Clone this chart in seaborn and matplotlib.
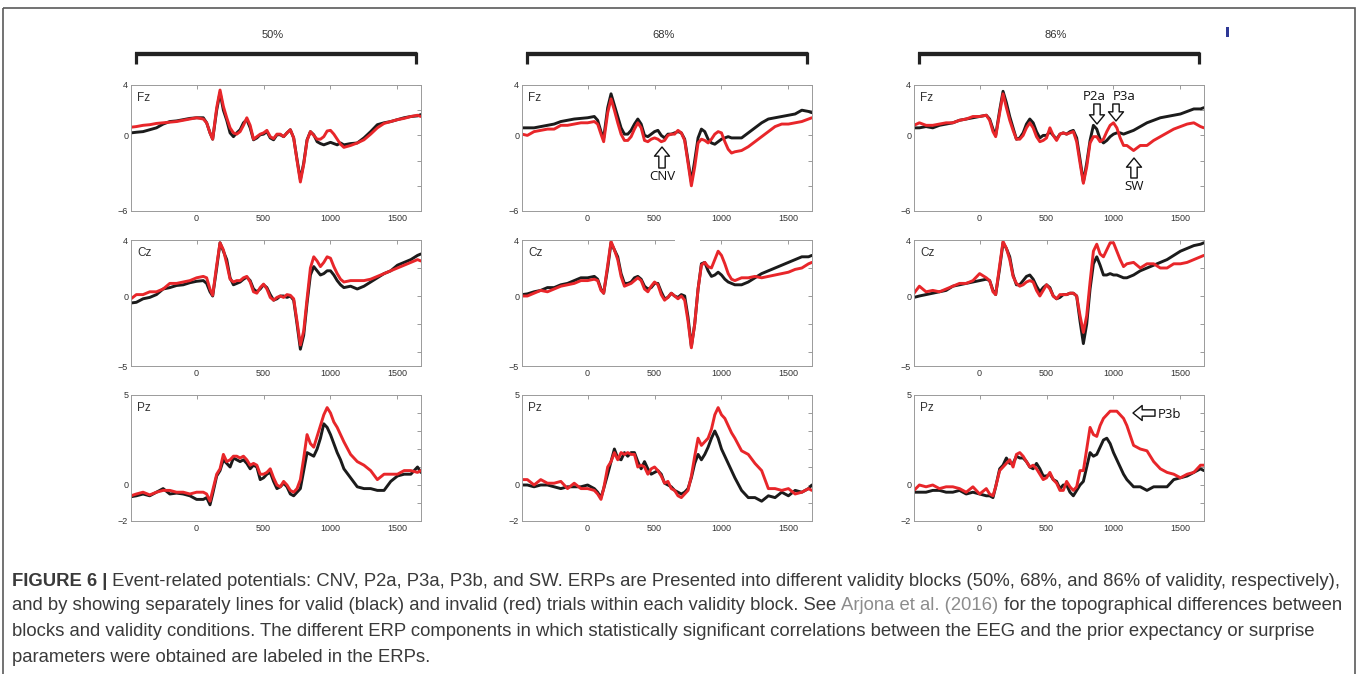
import numpy as np
import pandas as pd
import matplotlib
matplotlib.use("Agg")
import matplotlib.pyplot as plt
import seaborn as sns
from matplotlib.patches import FancyArrowPatch, Rectangle
from matplotlib.lines import Line2D
from matplotlib import font_manager as fm

# ---------------- data ----------------
T_MS = [-490, -450, -400, -350, -300, -250, -200, -150, -100, -50,
        0, 50, 75, 100, 120,
        150, 175, 200, 225, 250, 275, 300, 325, 350, 375,
        400, 425, 450, 475, 500, 525, 550, 575, 600, 625,
        650, 675, 700, 725, 750, 775, 800, 825, 850, 875,
        900, 925, 950, 975, 1000, 1025, 1050, 1075, 1100,
        1150, 1200, 1250, 1300, 1350, 1400, 1450, 1500, 1550, 1600, 1650, 1675]

BLOCKS = ["50%", "68%", "86%"]
CHANNELS = ["Fz", "Cz", "Pz"]

# ---- 50% block ----
FZ_50_VALID = [0.2, 0.25, 0.3, 0.45, 0.6, 0.9, 1.1, 1.15, 1.25, 1.35,
               1.4, 1.4, 1.0, 0.2, -0.3,
               2.0, 3.4, 2.0, 1.2, 0.2, -0.1, 0.2, 0.45, 1.0, 1.25,
               0.6, -0.35, -0.2, 0.05, 0.1, 0.3, -0.2, -0.35, 0.05, 0.05,
               -0.1, 0.2, 0.45, -0.2, -1.9, -3.5, -2.2, -0.35, 0.3, 0.05,
               -0.5, -0.65, -0.75, -0.65, -0.55, -0.65, -0.75, -0.6, -0.75,
               -0.65, -0.6, -0.2, 0.3, 0.85, 1.0, 1.1, 1.25, 1.4, 1.5, 1.55, 1.65]
FZ_50_INVALID = [0.65, 0.7, 0.8, 0.85, 0.95, 1.0, 1.05, 1.1, 1.2, 1.3,
                 1.4, 1.3, 1.0, 0.2, -0.3,
                 2.2, 3.6, 2.3, 1.4, 0.6, 0.2, 0.1, 0.3, 0.8, 1.4,
                 0.8, -0.3, -0.1, 0.1, 0.2, 0.4, -0.1, -0.25, 0.1, 0.1,
                 -0.1, 0.2, 0.45, -0.2, -2.0, -3.7, -2.3, -0.4, 0.3, 0.0,
                 -0.3, -0.3, -0.1, 0.35, 0.4, 0.1, -0.3, -0.7, -0.95,
                 -0.8, -0.6, -0.35, 0.1, 0.6, 0.95, 1.1, 1.25, 1.35, 1.5, 1.6, 1.5]
CZ_50_VALID = [-0.5, -0.45, -0.2, -0.1, 0.1, 0.5, 0.6, 0.75, 0.8, 0.95,
               1.05, 1.1, 0.9, 0.3, 0.0,
               2.0, 3.8, 3.2, 2.6, 1.3, 0.8, 0.9, 1.0, 1.2, 1.35,
               1.1, 0.5, 0.3, 0.5, 0.8, 0.6, 0.1, -0.3, -0.2, 0.0,
               0.0, -0.1, 0.0, -0.3, -2.0, -3.8, -2.8, -0.5, 1.5, 2.1,
               1.8, 1.5, 1.6, 1.8, 1.8, 1.5, 1.1, 0.8, 0.6,
               0.7, 0.5, 0.7, 1.0, 1.3, 1.6, 1.8, 2.2, 2.4, 2.6, 2.9, 3.0]
CZ_50_INVALID = [-0.2, 0.1, 0.1, 0.3, 0.3, 0.5, 0.9, 0.9, 1.0, 1.1,
                 1.3, 1.4, 1.3, 0.5, 0.05,
                 2.2, 3.8, 3.3, 2.3, 1.2, 1.0, 1.1, 1.1, 1.3, 1.4,
                 1.0, 0.3, 0.2, 0.6, 0.85, 0.5, -0.1, -0.3, -0.1, 0.0,
                 -0.1, 0.1, 0.05, -0.2, -1.8, -3.5, -2.5, -0.2, 2.0, 2.8,
                 2.5, 2.1, 2.4, 2.8, 2.7, 2.1, 1.6, 1.2, 1.0,
                 1.1, 1.1, 1.1, 1.2, 1.4, 1.6, 1.8, 2.0, 2.2, 2.4, 2.6, 2.5]
PZ_50_VALID = [-0.65, -0.6, -0.5, -0.6, -0.4, -0.2, -0.5, -0.45, -0.5, -0.6,
               -0.8, -0.8, -0.7, -1.1, -0.5,
               0.5, 0.8, 1.4, 1.2, 1.0, 1.5, 1.4, 1.3, 1.4, 1.2,
               0.9, 1.1, 1.0, 0.3, 0.4, 0.6, 0.7, 0.2, -0.2, -0.1,
               0.1, -0.1, -0.5, -0.6, -0.4, -0.2, 0.8, 1.8, 1.7, 1.6,
               2.0, 2.6, 3.4, 3.2, 2.8, 2.3, 1.8, 1.4, 0.9,
               0.4, -0.1, -0.2, -0.2, -0.3, -0.3, 0.2, 0.5, 0.6, 0.6, 1.0, 0.7]
PZ_50_INVALID = [-0.6, -0.5, -0.4, -0.55, -0.4, -0.3, -0.3, -0.4, -0.4, -0.5,
                 -0.4, -0.4, -0.5, -0.9, -0.3,
                 0.6, 0.9, 1.7, 1.3, 1.4, 1.6, 1.6, 1.5, 1.6, 1.4,
                 1.1, 1.2, 1.1, 0.6, 0.6, 0.7, 0.9, 0.4, 0.0, -0.1,
                 0.2, 0.0, -0.3, -0.4, -0.2, 0.3, 1.5, 2.8, 2.3, 2.1,
                 2.7, 3.3, 3.9, 4.3, 4.0, 3.5, 3.2, 2.8, 2.4,
                 1.7, 1.3, 1.1, 0.8, 0.3, 0.6, 0.6, 0.6, 0.8, 0.8, 0.7, 0.8]

# ---- 68% block ----
FZ_68_VALID = [0.6, 0.6, 0.6, 0.7, 0.8, 0.9, 1.1, 1.2, 1.3, 1.35,
               1.4, 1.5, 1.2, 0.3, -0.2,
               2.2, 3.3, 2.4, 1.5, 0.6, 0.1, 0.1, 0.4, 0.9, 1.3,
               0.9, 0.0, -0.1, 0.1, 0.3, 0.4, 0.0, -0.2, 0.1, 0.1,
               0.2, 0.3, 0.2, -0.3, -2.0, -3.7, -2.0, -0.2, 0.5, 0.3,
               -0.3, -0.6, -0.7, -0.5, -0.3, -0.2, -0.1, -0.2, -0.2,
               -0.2, 0.2, 0.6, 1.0, 1.3, 1.4, 1.5, 1.6, 1.7, 2.0, 1.9, 1.8]
FZ_68_INVALID = [0.1, 0.0, 0.3, 0.4, 0.5, 0.5, 0.8, 0.8, 0.9, 1.0,
                 1.0, 1.1, 0.9, 0.1, -0.5,
                 1.8, 2.9, 2.0, 1.0, 0.1, -0.4, -0.4, -0.1, 0.5, 1.0,
                 0.6, -0.4, -0.5, -0.3, -0.2, -0.3, -0.5, -0.4, 0.0, 0.1,
                 0.1, 0.4, 0.2, -0.4, -2.2, -4.0, -2.5, -0.6, -0.3, -0.4,
                 -0.6, -0.3, 0.1, 0.3, 0.2, -0.5, -1.1, -1.4, -1.3,
                 -1.2, -0.9, -0.5, -0.1, 0.3, 0.7, 0.9, 0.9, 1.0, 1.1, 1.3, 1.4]
CZ_68_VALID = [0.1, 0.15, 0.3, 0.4, 0.6, 0.6, 0.8, 0.9, 1.1, 1.3,
               1.3, 1.4, 1.2, 0.5, 0.2,
               2.0, 3.8, 3.3, 2.8, 1.6, 0.9, 0.9, 1.0, 1.3, 1.4,
               1.2, 0.7, 0.5, 0.6, 0.9, 0.9, 0.3, -0.2, -0.1, 0.2,
               0.0, -0.1, 0.1, 0.0, -1.5, -3.6, -2.0, 0.5, 2.3, 2.4,
               1.8, 1.4, 1.5, 1.7, 1.5, 1.2, 1.0, 0.9, 0.8,
               0.8, 1.0, 1.3, 1.6, 1.8, 2.0, 2.2, 2.4, 2.6, 2.8, 2.8, 2.9]
CZ_68_INVALID = [0.0, 0.0, 0.2, 0.4, 0.3, 0.5, 0.7, 0.8, 0.9, 1.1,
                 1.1, 1.2, 1.1, 0.4, 0.2,
                 2.2, 3.9, 3.3, 2.6, 1.4, 0.7, 0.8, 0.9, 1.1, 1.3,
                 1.1, 0.5, 0.3, 0.7, 1.0, 0.8, 0.1, -0.3, -0.1, 0.2,
                 0.0, -0.2, 0.0, -0.3, -1.8, -3.7, -2.0, 0.5, 2.2, 2.4,
                 2.1, 2.0, 2.6, 3.2, 2.9, 2.3, 1.6, 1.2, 1.1,
                 1.3, 1.3, 1.4, 1.3, 1.4, 1.5, 1.6, 1.7, 1.9, 2.0, 2.3, 2.4]
PZ_68_VALID = [0.0, 0.0, -0.1, 0.0, 0.0, -0.1, -0.2, -0.1, -0.1, -0.1,
               0.0, -0.2, -0.4, -0.7, -0.2,
               0.6, 1.3, 2.0, 1.5, 1.4, 1.8, 1.6, 1.8, 1.8, 1.3,
               0.9, 1.3, 0.9, 0.6, 0.7, 0.8, 0.6, 0.1, 0.0, -0.1,
               -0.3, -0.4, -0.5, -0.4, -0.2, 0.4, 1.2, 1.7, 1.4, 1.7,
               2.1, 2.6, 3.0, 2.6, 2.0, 1.6, 1.2, 0.8, 0.4,
               -0.3, -0.7, -0.7, -0.9, -0.6, -0.7, -0.4, -0.6, -0.3, -0.4, -0.2, 0.0]
PZ_68_INVALID = [0.3, 0.3, 0.0, 0.3, 0.1, 0.1, 0.2, -0.2, 0.1, -0.2,
                 -0.2, -0.3, -0.5, -0.8, -0.2,
                 1.0, 1.3, 1.8, 1.4, 1.8, 1.7, 1.8, 1.7, 1.7, 1.0,
                 1.1, 1.0, 0.6, 0.9, 1.0, 0.8, 0.5, 0.1, 0.2, -0.2,
                 -0.3, -0.6, -0.7, -0.5, -0.3, 0.5, 1.6, 2.6, 2.2, 2.4,
                 2.6, 3.1, 3.9, 4.3, 3.9, 3.7, 3.3, 2.9, 2.6,
                 1.9, 1.7, 1.2, 0.8, -0.2, -0.2, -0.3, -0.2, -0.5, -0.4, -0.2, -0.3]

# ---- 86% block ----
FZ_86_VALID = [0.6, 0.6, 0.7, 0.6, 0.8, 0.9, 1.0, 1.2, 1.3, 1.4,
               1.5, 1.6, 1.3, 0.5, 0.0,
               2.0, 3.5, 2.6, 1.5, 0.6, -0.3, -0.2, 0.2, 0.9, 1.3,
               1.0, 0.3, -0.2, 0.0, 0.0, 0.3, 0.0, -0.3, 0.1, 0.2,
               0.1, 0.3, 0.4, -0.2, -1.9, -3.7, -2.2, -0.4, 0.8, 0.5,
               -0.3, -0.6, -0.4, -0.1, 0.1, 0.2, 0.2, 0.1, 0.2,
               0.4, 0.7, 1.0, 1.2, 1.4, 1.5, 1.6, 1.7, 1.9, 2.1, 2.1, 2.2]
FZ_86_INVALID = [0.8, 1.0, 0.8, 0.8, 0.9, 1.0, 1.0, 1.2, 1.3, 1.5,
                 1.5, 1.6, 1.2, 0.3, -0.1,
                 1.8, 3.3, 2.2, 1.2, 0.4, -0.3, -0.3, 0.0, 0.6, 1.0,
                 0.6, -0.1, -0.5, -0.4, -0.2, 0.6, 0.0, -0.4, 0.1, 0.2,
                 0.1, 0.2, 0.3, -0.5, -2.2, -3.8, -2.5, -0.6, -0.1, -0.1,
                 -0.5, -0.3, 0.3, 0.8, 1.0, 0.6, -0.2, -0.8, -0.8,
                 -1.2, -0.8, -0.8, -0.4, -0.1, 0.2, 0.5, 0.7, 0.9, 1.0, 0.7, 0.6]
CZ_86_VALID = [-0.1, 0.0, 0.1, 0.2, 0.3, 0.4, 0.7, 0.8, 0.9, 1.0,
               1.1, 1.2, 1.1, 0.4, 0.1,
               2.0, 3.8, 3.4, 2.8, 1.5, 0.8, 0.8, 1.1, 1.4, 1.5,
               1.2, 0.7, 0.3, 0.6, 0.8, 0.6, 0.0, -0.2, -0.1, 0.1,
               0.1, 0.2, 0.2, 0.0, -1.8, -3.4, -2.0, 0.5, 2.3, 2.8,
               2.2, 1.5, 1.5, 1.6, 1.5, 1.5, 1.4, 1.3, 1.3,
               1.5, 1.8, 2.0, 2.2, 2.4, 2.6, 2.9, 3.2, 3.4, 3.6, 3.7, 3.8]
CZ_86_INVALID = [0.2, 0.7, 0.3, 0.4, 0.3, 0.5, 0.7, 0.9, 0.9, 1.1,
                 1.6, 1.3, 1.1, 0.3, 0.1,
                 2.2, 3.9, 3.4, 2.6, 1.4, 0.9, 0.7, 0.8, 1.0, 1.1,
                 1.0, 0.4, 0.0, 0.4, 0.8, 0.5, 0.0, -0.2, 0.1, 0.1,
                 0.1, 0.2, 0.2, 0.0, -1.4, -2.6, -1.4, 1.0, 3.2, 3.7,
                 3.0, 2.8, 3.3, 3.8, 3.8, 3.2, 2.6, 2.1, 2.3,
                 2.4, 2.0, 2.3, 2.3, 2.0, 2.0, 2.3, 2.3, 2.4, 2.6, 2.8, 2.9]
PZ_86_VALID = [-0.4, -0.4, -0.4, -0.3, -0.3, -0.4, -0.4, -0.3, -0.5, -0.4,
               -0.5, -0.6, -0.6, -0.7, -0.1,
               0.9, 1.1, 1.5, 1.2, 1.2, 1.6, 1.5, 1.5, 1.3, 1.0,
               0.9, 1.2, 0.9, 0.5, 0.5, 0.6, 0.3, 0.2, -0.2, 0.0,
               0.0, -0.4, -0.6, -0.3, 0.0, 0.2, 1.0, 1.8, 1.6, 1.7,
               2.1, 2.5, 2.6, 2.3, 1.8, 1.4, 1.0, 0.6, 0.3,
               -0.1, -0.1, -0.3, -0.1, -0.1, -0.1, 0.3, 0.4, 0.5, 0.7, 0.9, 0.8]
PZ_86_INVALID = [-0.3, 0.0, -0.1, 0.0, -0.2, -0.1, -0.1, -0.2, -0.4, -0.1,
                 -0.5, -0.2, -0.5, -0.6, -0.1,
                 0.8, 1.0, 1.2, 1.4, 1.0, 1.7, 1.8, 1.6, 1.3, 1.0,
                 1.1, 0.9, 0.6, 0.3, 0.4, 0.7, 0.3, 0.1, -0.3, -0.3,
                 0.2, -0.1, -0.3, -0.1, 0.8, 0.8, 2.0, 3.2, 2.8, 2.7,
                 3.3, 3.7, 3.9, 4.1, 4.1, 4.1, 3.9, 3.7, 3.3,
                 2.2, 2.0, 1.9, 1.3, 0.9, 0.7, 0.6, 0.4, 0.6, 0.7, 1.1, 1.1]

SERIES = {
    ("50%", "Fz"): (FZ_50_VALID, FZ_50_INVALID),
    ("50%", "Cz"): (CZ_50_VALID, CZ_50_INVALID),
    ("50%", "Pz"): (PZ_50_VALID, PZ_50_INVALID),
    ("68%", "Fz"): (FZ_68_VALID, FZ_68_INVALID),
    ("68%", "Cz"): (CZ_68_VALID, CZ_68_INVALID),
    ("68%", "Pz"): (PZ_68_VALID, PZ_68_INVALID),
    ("86%", "Fz"): (FZ_86_VALID, FZ_86_INVALID),
    ("86%", "Cz"): (CZ_86_VALID, CZ_86_INVALID),
    ("86%", "Pz"): (PZ_86_VALID, PZ_86_INVALID),
}

Y_LIMITS = {"Fz": (-6, 4), "Cz": (-5, 4), "Pz": (-2, 5)}
Y_MAJOR = {"Fz": [-6, 0, 4], "Cz": [-5, 0, 4], "Pz": [-2, 0, 5]}
Y_MINOR = {"Fz": [-4, -2, 2], "Cz": [-4, -2, 2], "Pz": [-1, 1, 2, 3, 4]}
X_TICKS = [0, 500, 1000, 1500]

rows = []
for (blk, ch), (valid, invalid) in SERIES.items():
    for cond, vals in (("valid", valid), ("invalid", invalid)):
        for t, v in zip(T_MS, vals):
            rows.append((blk, ch, cond, t, v))
df = pd.DataFrame(rows, columns=["block", "channel", "condition", "time", "uV"])

# ---------------- figure ----------------
sns.set_theme(style="white")
names = {f.name for f in fm.fontManager.ttflist}
CAP_FONT = "Liberation Sans Narrow" if "Liberation Sans Narrow" in names else "Liberation Sans"
plt.rcParams["font.family"] = ["Liberation Sans", "DejaVu Sans"]

W, H = 1358, 674
fig = plt.figure(figsize=(W / 100, H / 100), dpi=100)
fig.patch.set_facecolor("white")


def px_axes(x0, y0, x1, y1):
    return fig.add_axes([x0 / W, 1 - y1 / H, (x1 - x0) / W, (y1 - y0) / H])


COL_LEFT = [131, 522, 914]
ROW_TOP = [85, 240, 395]
AX_W, AX_H = 290, 126
PALETTE = {"valid": "#1b1b1b", "invalid": "#e8262a"}

for i, blk in enumerate(BLOCKS):
    for j, ch in enumerate(CHANNELS):
        x0, y0 = COL_LEFT[i], ROW_TOP[j]
        ax = px_axes(x0, y0, x0 + AX_W, y0 + AX_H)
        sub = df[(df.block == blk) & (df.channel == ch)]
        sns.lineplot(data=sub, x="time", y="uV", hue="condition",
                     hue_order=["valid", "invalid"], palette=PALETTE,
                     linewidth=2.1, legend=False, ax=ax,
                     estimator=None, sort=False)
        ax.set_xlim(-490, 1676)
        ax.set_ylim(*Y_LIMITS[ch])
        ax.set_xlabel("")
        ax.set_ylabel("")
        ax.set_xticks(X_TICKS)
        ax.set_yticks(Y_MAJOR[ch])
        ax.set_yticks(Y_MINOR[ch], minor=True)
        ax.tick_params(which="both", direction="in", top=True, right=True,
                       length=3, width=0.6, color="#8a8a8a",
                       labelsize=6.5, labelcolor="#333333", pad=2)
        for s in ax.spines.values():
            s.set_color("#9a9a9a")
            s.set_linewidth(0.7)
        ax.set_facecolor("white")
        ax.text(0.022, 0.9, ch, transform=ax.transAxes, fontsize=8.5,
                color="#333333", va="center", ha="left")

# ---------------- overlay (brackets, labels, caption) ----------------
ov = fig.add_axes([0, 0, 1, 1], zorder=10)
ov.set_xlim(0, W)
ov.set_ylim(H, 0)
ov.axis("off")
ov.patch.set_alpha(0)

# outer frame
ov.add_patch(Rectangle((3, 8), 1352, 720, fill=False, ec="#5a5a5a", lw=1.2))

# block titles + brackets
for i, blk in enumerate(BLOCKS):
    bx0 = COL_LEFT[i] + 4
    bx1 = COL_LEFT[i] + 286
    ov.text((bx0 + bx1) / 2 - 3, 35.5, blk, ha="center", va="center",
            fontsize=8, color="#333333")
    ov.add_line(Line2D([bx0, bx1], [53.5, 53.5], color="#222222", lw=3.1,
                       solid_capstyle="butt"))
    for bx in (bx0 + 1.2, bx1 - 1.2):
        ov.add_line(Line2D([bx, bx], [52, 63.5], color="#222222", lw=2.3,
                           solid_capstyle="butt"))

# gap in the top frame of the 68% Cz panel
ov.add_patch(Rectangle((675, 237.5), 25, 5, fc="white", ec="none"))
# small blue mark at top right
ov.add_patch(Rectangle((1226, 27), 3, 10, fc="#2e3896", ec="none"))

# component labels with hollow arrows
ANN_FONT = dict(fontsize=9.5, color="#111111", family=["Open Sans", "DejaVu Sans"])
ARROW = "simple,head_length=0.55,head_width=0.9,tail_width=0.38"


def hollow_arrow(p_from, p_to):
    ov.add_patch(FancyArrowPatch(p_from, p_to, arrowstyle=ARROW,
                                 mutation_scale=12, fc="white", ec="#111111",
                                 lw=1.0, shrinkA=0, shrinkB=0))


hollow_arrow((662, 168), (662, 147))
ov.text(662, 176, "CNV", ha="center", va="center", **ANN_FONT)
hollow_arrow((1097, 104), (1097, 124))
ov.text(1094, 97, "P2a", ha="center", va="center", **ANN_FONT)
hollow_arrow((1116, 104), (1116, 121))
ov.text(1124, 97, "P3a", ha="center", va="center", **ANN_FONT)
hollow_arrow((1134, 178), (1134, 158))
ov.text(1134, 186, "SW", ha="center", va="center", **ANN_FONT)
hollow_arrow((1155, 413), (1133, 413))
ov.text(1158, 415, "P3b", ha="left", va="center", **ANN_FONT)

# caption
CAP_COLOR = "#3a3a3a"
LINK_COLOR = "#8c8c8c"
CAPTION = [
    [("FIGURE 6 |", "bold", CAP_COLOR),
     (" Event-related potentials: CNV, P2a, P3a, P3b, and SW. ERPs are Presented into different "
      "validity blocks (50%, 68%, and 86% of validity, respectively),", "normal", CAP_COLOR)],
    [("and by showing separately lines for valid (black) and invalid (red) trials within each "
      "validity block. See ", "normal", CAP_COLOR),
     ("Arjona et al. (2016)", "normal", LINK_COLOR),
     (" for the topographical differences between", "normal", CAP_COLOR)],
    [("blocks and validity conditions. The different ERP components in which statistically "
      "significant correlations between the EEG and the prior expectancy or surprise",
      "normal", CAP_COLOR)],
    [("parameters were obtained are labeled in the ERPs.", "normal", CAP_COLOR)],
]
LINE_Y = [579, 604, 629, 655]
pieces = []
for line, yc in zip(CAPTION, LINE_Y):
    prev = None
    for txt, wt, col in line:
        if prev is None:
            t = ov.text(12, yc, txt, ha="left", va="center_baseline", fontsize=12,
                        fontweight=wt, color=col, family=[CAP_FONT, "DejaVu Sans"])
        else:
            t = ov.annotate(txt, xy=(1, 0), xycoords=prev, ha="left", va="bottom",
                            fontsize=12, fontweight=wt, color=col,
                            family=[CAP_FONT, "DejaVu Sans"])
        pieces.append((t, line is CAPTION[0]))
        prev = t

# fit first caption line to its width in the reference
fig.canvas.draw()
r = fig.canvas.get_renderer()
line1 = [p for p, first in pieces if first]
x_end = line1[-1].get_window_extent(r).x1
scale = (1343 - 12) / (x_end - 12)
for p, _ in pieces:
    p.set_fontsize(12 * scale)

fig.savefig("out.png", dpi=100, facecolor="white")
